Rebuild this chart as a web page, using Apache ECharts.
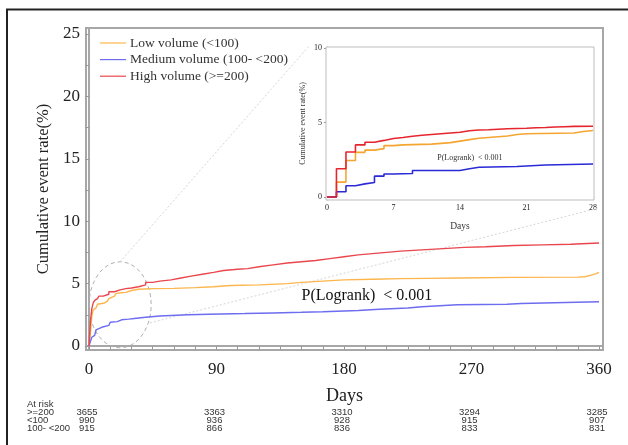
<!DOCTYPE html>
<html><head><meta charset="utf-8">
<script src="https://cdn.jsdelivr.net/npm/echarts@6/dist/echarts.min.js"></script>
<style>html,body{margin:0;padding:0;background:#fff}#c{width:628px;height:445px}</style>
</head><body><div id="c"></div>
<script>
// ---- data ----
const groupNames = ['Low volume (<100)', 'Medium volume (100- <200)', 'High volume (>=200)'];
const mainXTicks = [0, 90, 180, 270, 360];
const mainYTicks = [0, 5, 10, 15, 20, 25];
const insetXTicks = [0, 7, 14, 21, 28];
const insetYTicks = [0, 5, 10];

// main chart (days 0-360), [day, cumulative %], step changes
const lowMain = [[0,0],[1,1.0],[2,2.4],[3,2.9],[4,3.05],[5,3.2],[6,3.35],[7,3.45],[11,3.6],[13,3.7],[14,3.8],[15,3.9],[16,4.0],[18,4.1],[19,4.2],[20,4.25],[21,4.3],[26,4.4],[27,4.45],[30,4.55],[35,4.6],[45,4.62],[60,4.68],[75,4.75],[88,4.85],[100,4.9],[120,5.0],[140,5.1],[150,5.2],[165,5.3],[180,5.35],[200,5.4],[220,5.42],[240,5.45],[262,5.5],[300,5.52],[345,5.55],[350,5.7],[355,5.8],[358,5.9],[360,5.9]];
const medMain = [[0,0],[1,0.35],[2,0.7],[3,0.85],[4,0.95],[5,1.3],[6,1.4],[7,1.5],[9,1.65],[14,1.8],[15,1.9],[16,1.95],[20,2.1],[23,2.15],[28,2.2],[32,2.3],[40,2.4],[50,2.5],[70,2.55],[85,2.6],[110,2.65],[130,2.7],[150,2.75],[165,2.85],[190,2.95],[205,3.05],[225,3.15],[235,3.3],[260,3.35],[295,3.4],[305,3.55],[360,3.6]];
const highMain = [[0,0],[1,1.9],[2,3.0],[3,3.45],[4,3.65],[5,3.8],[6,3.9],[7,4.0],[10,4.15],[14,4.35],[18,4.5],[22,4.6],[26,4.65],[30,4.75],[35,4.9],[40,5.1],[45,5.2],[50,5.3],[58,5.45],[65,5.6],[72,5.75],[80,5.9],[88,6.05],[95,6.15],[105,6.2],[112,6.35],[120,6.5],[130,6.65],[140,6.75],[150,6.85],[160,7.0],[170,7.15],[180,7.3],[190,7.4],[200,7.5],[210,7.6],[220,7.7],[235,7.8],[250,7.9],[265,7.95],[280,8.05],[300,8.1],[320,8.15],[340,8.25],[360,8.3]];

// inset chart (days 0-28)
const lowInset = [[0,0],[1,1.0],[2,2.45],[3,3.0],[4,3.15],[5,3.25],[6,3.45],[7,3.5],[8,3.55],[11,3.65],[13,3.75],[14,3.85],[15,3.95],[16,4.05],[18,4.1],[19,4.2],[20,4.25],[21,4.3],[26,4.4],[27,4.47],[28,4.47]];
const medInset = [[0,0],[1,0.35],[2,0.76],[3,0.88],[4,0.98],[5,1.4],[6,1.55],[7,1.58],[9,1.78],[14,1.9],[15,2.0],[16,2.05],[20,2.15],[23,2.22],[28,2.24]];
const highInset = [[0,0],[1,1.9],[2,3.02],[3,3.5],[4,3.68],[5,3.8],[6,3.93],[7,4.0],[8,4.08],[9,4.15],[10,4.2],[11,4.25],[12,4.3],[13,4.35],[14,4.45],[15,4.5],[16,4.52],[17,4.55],[18,4.58],[19,4.6],[20,4.62],[21,4.65],[22,4.67],[23,4.7],[24,4.72],[25,4.74],[26,4.75],[28,4.75]];

// at-risk table
const atRiskDays = [0, 90, 180, 270, 360];
const atRiskLabels = ['>=200', '<100', '100- <200'];
const atRiskHigh = [3655, 3363, 3310, 3294, 3285];
const atRiskLow = [990, 936, 928, 915, 907];
const atRiskMed = [915, 866, 836, 833, 831];

const pText = 'P(Logrank)  < 0.001';

// ---- styles ----
const mainColors = ['#FDB54C', '#6D6DF0', '#E9474D'];
const insetColors = ['#F5A531', '#2A2AD6', '#E6262E'];
const serif = 'Liberation Serif, Times New Roman, serif';
const sans = 'Liberation Sans, Arial, sans-serif';
const frameGray = '#A7A7A7';

const chart = echarts.init(document.getElementById('c'), null, {renderer: 'canvas'});

function range(a, b, s) { const r = []; for (let v = a; v <= b + 1e-9; v += s) r.push(+v.toFixed(4)); return r; }

const option = {
  animation: false,
  backgroundColor: '#fff',
  grid: [
    {left: 86, top: 28, width: 517, height: 322, show: true, borderColor: frameGray, borderWidth: 2, backgroundColor: 'transparent'},
    {left: 326, top: 47, width: 268, height: 153, show: true, borderColor: '#BDBDBD', borderWidth: 1, backgroundColor: '#fff', z: 5}
  ],
  legend: {
    orient: 'vertical', left: 100, top: 36, itemWidth: 26, itemHeight: 10, itemGap: 2.6, padding: 0,
    data: groupNames.map(n => ({name: n, icon: 'path://M0,4.4 L26,4.4 L26,5.6 L0,5.6 Z'})),
    textStyle: {fontFamily: serif, fontSize: 13.5, color: '#333', padding: [0,0,0,-1], lineHeight: 14},
    selectedMode: false
  },
  xAxis: [
    {gridIndex: 0, type: 'value', min: -2.1, max: 362.8,
      axisLine: {show: true, lineStyle: {color: frameGray, width: 2}},
      axisTick: {show: true, length: 4, lineStyle: {color: '#999'}, customValues: range(0, 360, 15)},
      axisLabel: {customValues: mainXTicks, fontFamily: serif, fontSize: 17, color: '#222', margin: 11},
      splitLine: {show: false},
      name: 'Days', nameLocation: 'middle', nameGap: 37, nameTextStyle: {fontFamily: serif, fontSize: 18, color: '#222'}
    },
    {gridIndex: 1, type: 'value', min: -0.1, max: 28.1,
      axisLine: {show: true, lineStyle: {color: '#BDBDBD', width: 1}},
      axisTick: {show: true, length: 3, lineStyle: {color: '#999'}, customValues: insetXTicks},
      axisLabel: {customValues: insetXTicks, fontFamily: serif, fontSize: 8, color: '#222', margin: 4},
      splitLine: {show: false},
      name: 'Days', nameLocation: 'middle', nameGap: 21, nameTextStyle: {fontFamily: serif, fontSize: 9.5, color: '#333'}
    }
  ],
  yAxis: [
    {gridIndex: 0, type: 'value', min: -0.32, max: 25.48,
      axisLine: {show: true, lineStyle: {color: frameGray, width: 2}},
      axisTick: {show: true, length: 4, lineStyle: {color: '#999'}, customValues: range(0, 25, 2.5)},
      axisLabel: {customValues: mainYTicks, fontFamily: serif, fontSize: 17, color: '#222', margin: 6},
      splitLine: {show: false},
      name: 'Cumulative event rate(%)', nameLocation: 'middle', nameGap: 33, nameRotate: 90,
      nameTextStyle: {fontFamily: serif, fontSize: 16.5, color: '#222'}
    },
    {gridIndex: 1, type: 'value', min: -0.2, max: 10.07,
      axisLine: {show: true, lineStyle: {color: '#BDBDBD', width: 1}},
      axisTick: {show: true, length: 3, lineStyle: {color: '#999'}, customValues: insetYTicks},
      axisLabel: {customValues: insetYTicks, fontFamily: serif, fontSize: 8, color: '#222', margin: 4},
      splitLine: {show: false},
      name: 'Cumulative event rate(%)', nameLocation: 'middle', nameGap: 19, nameRotate: 90,
      nameTextStyle: {fontFamily: serif, fontSize: 8, color: '#333'}
    }
  ],
  series: [
    {name: groupNames[0], type: 'line', step: 'end', xAxisIndex: 0, yAxisIndex: 0, data: lowMain, symbol: 'none', color: mainColors[0], lineStyle: {width: 1.4}},
    {name: groupNames[1], type: 'line', step: 'end', xAxisIndex: 0, yAxisIndex: 0, data: medMain, symbol: 'none', color: mainColors[1], lineStyle: {width: 1.4}},
    {name: groupNames[2], type: 'line', step: 'end', xAxisIndex: 0, yAxisIndex: 0, data: highMain, symbol: 'none', color: mainColors[2], lineStyle: {width: 1.4}},
    {name: 'inset-low', type: 'line', step: 'end', xAxisIndex: 1, yAxisIndex: 1, data: lowInset, symbol: 'none', color: insetColors[0], lineStyle: {width: 1.6}, z: 6},
    {name: 'inset-med', type: 'line', step: 'end', xAxisIndex: 1, yAxisIndex: 1, data: medInset, symbol: 'none', color: insetColors[1], lineStyle: {width: 1.6}, z: 6},
    {name: 'inset-high', type: 'line', step: 'end', xAxisIndex: 1, yAxisIndex: 1, data: highInset, symbol: 'none', color: insetColors[2], lineStyle: {width: 1.6}, z: 6}
  ]
};
chart.setOption(option);

// ---- annotations placed through the axes ----
const px = (d, v) => chart.convertToPixel({xAxisIndex: 0, yAxisIndex: 0}, [d, v]);
const pxi = (d, v) => chart.convertToPixel({xAxisIndex: 1, yAxisIndex: 1}, [d, v]);
const g = [];
// outer border
g.push({type: 'rect', shape: {x: 7, y: 9.5, width: 700, height: 600}, style: {fill: 'none', stroke: '#222', lineWidth: 2}, z: 100, silent: true});
// dashed ellipse
const ec = px(22, 3.3);
g.push({type: 'ellipse', shape: {cx: ec[0], cy: ec[1], rx: 31, ry: 43}, style: {fill: 'none', stroke: '#B0B0B0', lineWidth: 1, lineDash: [4, 3]}, z: 1});
// connector lines
const a1 = px(22, 6.75), b1 = pxi(-1.8, 10.2);
g.push({type: 'line', shape: {x1: a1[0], y1: a1[1], x2: b1[0], y2: b1[1]}, style: {stroke: '#D6D6D6', lineWidth: 1, lineDash: [2, 2]}, z: 1});
const a2 = px(43, 1.85), b2 = pxi(28.5, -0.75);
g.push({type: 'line', shape: {x1: a2[0], y1: a2[1], x2: b2[0], y2: b2[1]}, style: {stroke: '#D6D6D6', lineWidth: 1, lineDash: [2, 2]}, z: 1});
// p-values
const pm = px(150, 4.0);
g.push({type: 'text', x: pm[0], y: pm[1], style: {text: pText, font: '16px ' + serif, fill: '#111', textVerticalAlign: 'middle'}, z: 10});
const pi = pxi(11.6, 2.65);
g.push({type: 'text', x: pi[0], y: pi[1], style: {text: pText, font: '8px ' + serif, fill: '#333', textVerticalAlign: 'middle'}, z: 10});
// at-risk table
const rowY = [412, 420, 428];
g.push({type: 'text', x: 27, y: 404, style: {text: 'At risk', font: '9.5px ' + sans, fill: '#333', textVerticalAlign: 'middle'}});
const rows = [atRiskHigh, atRiskLow, atRiskMed];
atRiskLabels.forEach((lab, i) => {
  g.push({type: 'text', x: 27, y: rowY[i], style: {text: lab, font: '9.5px ' + sans, fill: '#333', textVerticalAlign: 'middle'}});
  atRiskDays.forEach((d, j) => {
    const p = px(d, 0);
    g.push({type: 'text', x: p[0] - 2, y: rowY[i], style: {text: String(rows[i][j]), font: '9.5px ' + sans, fill: '#333', textAlign: 'center', textVerticalAlign: 'middle'}});
  });
});
chart.setOption({graphic: g});
</script>
</body></html>
